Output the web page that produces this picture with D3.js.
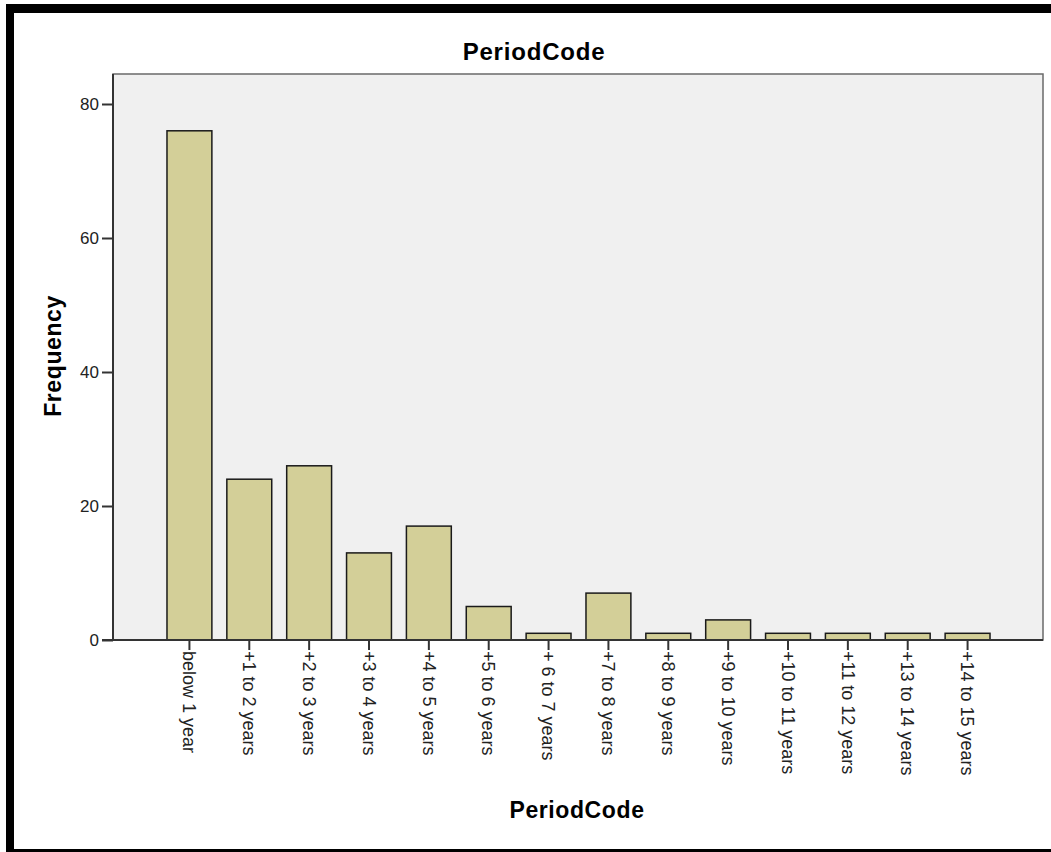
<!DOCTYPE html>
<html>
<head>
<meta charset="utf-8">
<script src="https://cdn.jsdelivr.net/npm/d3@7/dist/d3.min.js"></script>
<style>
  html, body { margin: 0; padding: 0; background: #ffffff; }
  svg { display: block; font-family: "Liberation Sans", Arial, sans-serif; }
</style>
</head>
<body>
<svg id="chart" width="1051" height="852"></svg>
<script>
const categories = [
  "below 1 year", "+1 to 2 years", "+2 to 3 years", "+3 to 4 years",
  "+4 to 5 years", "+5 to 6 years", "+ 6 to 7 years", "+7 to 8 years",
  "+8 to 9 years", "+9 to 10 years", "+10 to 11 years", "+11 to 12 years",
  "+13 to 14 years", "+14 to 15 years"
];
const frequencies = [76, 24, 26, 13, 17, 5, 1, 7, 1, 3, 1, 1, 1, 1];
const yTicks = [0, 20, 40, 60, 80];
const chartTitle = "PeriodCode";
const xTitle = "PeriodCode";
const yTitle = "Frequency";

const svg = d3.select("#chart");

// outer black frame (as in the screenshot)
svg.append("rect").attr("x", 6).attr("y", 4).attr("width", 1045).attr("height", 9).attr("fill", "#000");
svg.append("rect").attr("x", 6).attr("y", 4).attr("width", 8).attr("height", 848).attr("fill", "#000");
svg.append("rect").attr("x", 6).attr("y", 849).attr("width", 1045).attr("height", 3).attr("fill", "#000");

const plot = { left: 113, right: 1043, top: 74, bottom: 640 };

// plot background
svg.append("rect")
  .attr("x", plot.left).attr("y", plot.top)
  .attr("width", plot.right - plot.left).attr("height", plot.bottom - plot.top)
  .attr("fill", "#f0f0f0")
  .attr("stroke", "#6a6a6a").attr("stroke-width", 1.5);

const x = d3.scaleBand()
  .domain(categories)
  .range([159.5, 997.5])
  .paddingInner(0.25)
  .paddingOuter(0.125);

const y = d3.scaleLinear()
  .domain([0, 80])
  .range([plot.bottom, 104]);

// bars
svg.append("g").selectAll("rect")
  .data(categories)
  .join("rect")
  .attr("x", (d) => x(d))
  .attr("y", (d, i) => y(frequencies[i]))
  .attr("width", x.bandwidth())
  .attr("height", (d, i) => y(0) - y(frequencies[i]))
  .attr("fill", "#d3cf98")
  .attr("stroke", "#1a1a1a")
  .attr("stroke-width", 1.5);

// y axis
const yAxis = svg.append("g")
  .attr("transform", `translate(${plot.left},0)`)
  .call(d3.axisLeft(y).tickValues(yTicks).tickSize(11).tickPadding(3).tickFormat(d3.format("d")));
yAxis.select(".domain").attr("stroke", "#333").attr("stroke-width", 2)
  .attr("d", `M0,${plot.top}V${plot.bottom}`);
yAxis.selectAll(".tick line").attr("stroke", "#333").attr("stroke-width", 2);
yAxis.selectAll(".tick text").attr("fill", "#222").style("font-size", "17px")
  .style("font-family", "'Liberation Sans', Arial, sans-serif");

// x axis
const xAxis = svg.append("g")
  .attr("transform", `translate(0,${plot.bottom})`)
  .call(d3.axisBottom(x).tickSize(10).tickPadding(0));
xAxis.select(".domain").attr("stroke", "#333").attr("stroke-width", 2)
  .attr("d", `M${plot.left - 11},0H${plot.right}`);
xAxis.selectAll(".tick line").attr("stroke", "#333").attr("stroke-width", 2);
xAxis.selectAll(".tick text")
  .attr("fill", "#222")
  .style("font-size", "18px")
  .style("font-family", "'Liberation Sans', Arial, sans-serif")
  .attr("text-anchor", "start")
  .attr("dy", "0.35em")
  .attr("transform", "translate(0,11) rotate(90)")
  .attr("x", 0).attr("y", 0);

// titles
svg.append("text")
  .attr("x", 534).attr("y", 60)
  .attr("text-anchor", "middle")
  .style("font-size", "24px").style("font-weight", "bold")
  .style("letter-spacing", "0.8px")
  .attr("fill", "#000")
  .text(chartTitle);

svg.append("text")
  .attr("x", 577).attr("y", 818)
  .attr("text-anchor", "middle")
  .style("font-size", "23px").style("font-weight", "bold")
  .style("letter-spacing", "0.6px")
  .attr("fill", "#000")
  .text(xTitle);

svg.append("text")
  .attr("transform", "translate(61,356) rotate(-90)")
  .attr("text-anchor", "middle")
  .style("font-size", "23px").style("font-weight", "bold")
  .style("letter-spacing", "0.6px")
  .attr("fill", "#000")
  .text(yTitle);
</script>
</body>
</html>
